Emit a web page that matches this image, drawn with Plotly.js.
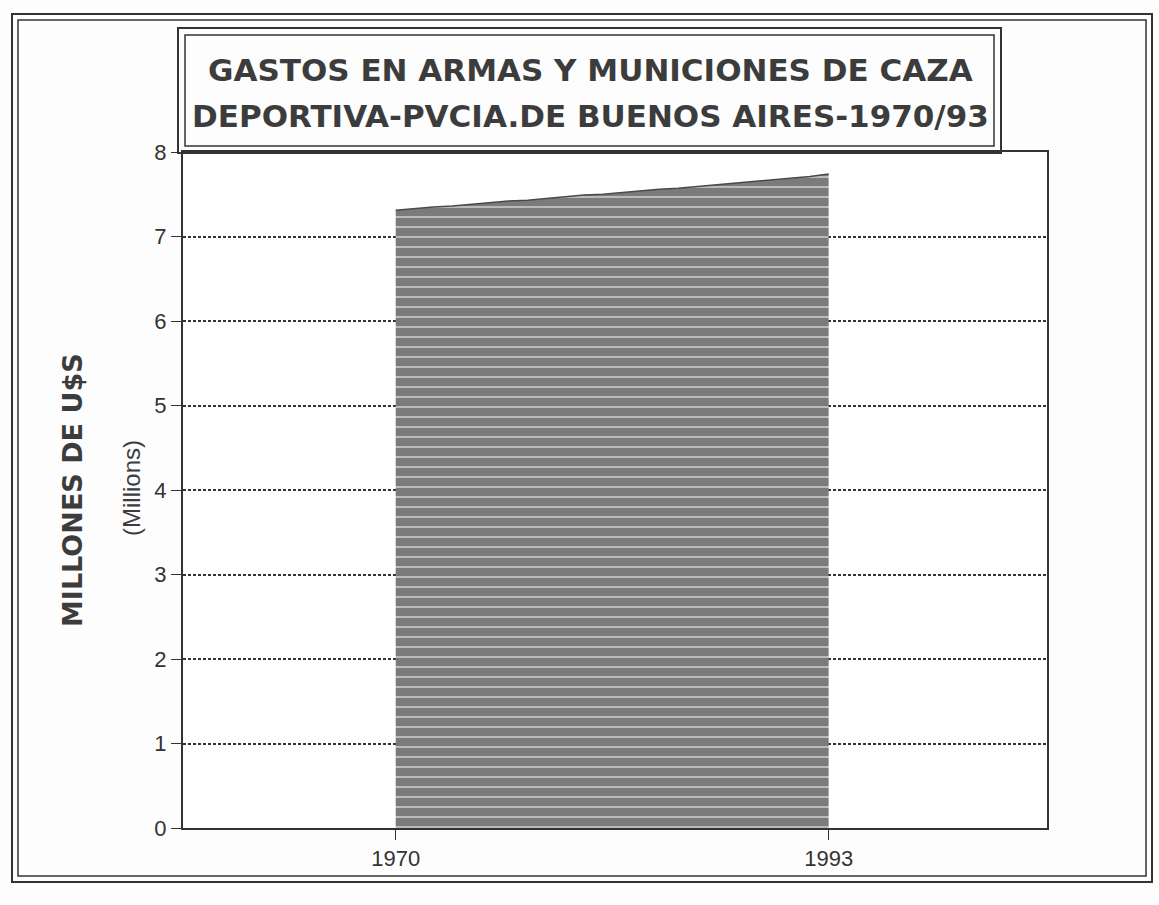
<!DOCTYPE html>
<html>
<head>
<meta charset="utf-8">
<script src="https://cdn.plot.ly/plotly-3.0.1.min.js"></script>
<style>html,body{margin:0;padding:0;background:#fdfdfd;}#chart{width:1159px;height:905px;}</style>
</head>
<body>
<div id="chart"></div>
<script>
const years = [1970,1971,1972,1973,1974,1975,1976,1977,1978,1979,1980,1981,1982,1983,1984,1985,1986,1987,1988,1989,1990,1991,1992,1993];
const gastos = [7.31,7.33,7.35,7.36,7.38,7.40,7.42,7.43,7.45,7.47,7.49,7.50,7.52,7.54,7.56,7.57,7.59,7.61,7.63,7.65,7.67,7.69,7.71,7.74];
const yTicks = [0,1,2,3,4,5,6,7,8];
const xTicks = [1970,1993];
const xTickLabels = ['1970','1993'];
const titleLine1 = 'GASTOS EN ARMAS Y MUNICIONES DE CAZA';
const titleLine2 = 'DEPORTIVA-PVCIA.DE BUENOS AIRES-1970/93';
const yTitle = 'MILLONES DE U$S';
const ySubTitle = '(Millions)';

const L = 183, R = 1047, T = 152, B = 828;
const W = R - L, H = B - T;
const px = x => (x - L) / W;
const py = y => (B - y) / H;
const ink = '#333333';

function rect(x0, y0, x1, y1, w) {
  return {type:'rect', xref:'paper', yref:'paper', x0:px(x0), x1:px(x1), y0:py(y1), y1:py(y0),
          line:{color:ink, width:w}, fillcolor:'rgba(0,0,0,0)', layer:'above'};
}

const trace = {
  x: years, y: gastos, type:'scatter', mode:'lines', fill:'tozeroy',
  line:{color:'#4a4a4a', width:1.5, shape:'linear'},
  fillcolor:'#7e7e7e',
  fillpattern:{shape:'-', bgcolor:'#7b7b7b', fgcolor:'#d0d0d0', size:10, solidity:0.15},
  hoverinfo:'skip', showlegend:false
};

const titleFont = {family:'"DejaVu Sans", "Liberation Sans", Arial, sans-serif', size:31, color:'#3c3c3c', weight:'bold'};
const tickFont = {size:22, family:'"Liberation Sans Narrow", "Liberation Sans", Arial, sans-serif', color:ink};

const layout = {
  width:1159, height:905,
  margin:{l:L, r:1159-R, t:T, b:905-B},
  paper_bgcolor:'#fdfdfd', plot_bgcolor:'#ffffff',
  font:{family:'"Liberation Sans Narrow", "Liberation Sans", Arial, sans-serif', color:ink, size:20},
  xaxis:{range:[1958.7,2004.6], tickvals:xTicks, ticktext:xTickLabels, ticks:'outside', ticklen:10,
         tickcolor:ink, showgrid:false, zeroline:false, showline:true, linecolor:ink, linewidth:2, mirror:true,
         tickfont:tickFont},
  yaxis:{range:[0,8], tickvals:yTicks, ticks:'outside', ticklen:10, tickcolor:ink,
         showgrid:true, gridcolor:'#333', griddash:'3px,2px', gridwidth:2, zeroline:false,
         showline:true, linecolor:ink, linewidth:2, mirror:true,
         tickfont:tickFont},
  shapes:[
    rect(12, 14, 1152, 882, 2),
    rect(18, 20, 1146, 876, 1.5),
    rect(178, 28, 1001, 153, 2),
    rect(185, 35, 994, 146, 1.5)
  ],
  annotations:[
    {text:titleLine1, xref:'paper', yref:'paper', x:px(590), y:py(70), xanchor:'center', yanchor:'middle',
     showarrow:false, font:titleFont},
    {text:titleLine2, xref:'paper', yref:'paper', x:px(590), y:py(116), xanchor:'center', yanchor:'middle',
     showarrow:false, font:titleFont},
    {text:yTitle, xref:'paper', yref:'paper', x:px(72), y:py(490), textangle:-90, xanchor:'center', yanchor:'middle',
     showarrow:false, font:{family:'"DejaVu Sans", "Liberation Sans", Arial, sans-serif', size:27, color:'#3c3c3c', weight:'bold'}},
    {text:ySubTitle, xref:'paper', yref:'paper', x:px(131), y:py(488), textangle:-90, xanchor:'center', yanchor:'middle',
     showarrow:false, font:{family:'"Liberation Sans", Arial, sans-serif', size:24, color:'#3c3c3c'}}
  ]
};

Plotly.newPlot('chart', [trace], layout, {displayModeBar:false, staticPlot:true});
</script>
</body>
</html>
